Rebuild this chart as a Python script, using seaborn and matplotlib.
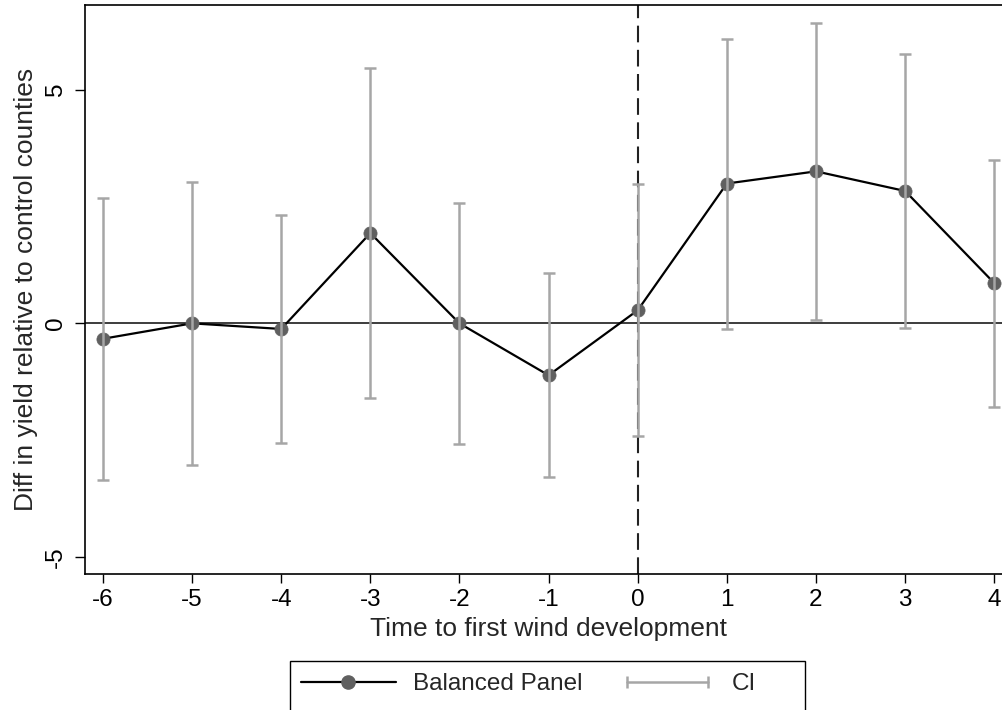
import numpy as np
import pandas as pd
import matplotlib
matplotlib.use("Agg")
import matplotlib.pyplot as plt
from matplotlib.lines import Line2D
from matplotlib.patches import Rectangle
from matplotlib.legend_handler import HandlerLine2D
import seaborn as sns

# event time relative to first wind development
event_time = [-6, -5, -4, -3, -2, -1, 0, 1, 2, 3, 4]
coef = [-0.33, 0.00, -0.12, 1.93, 0.00, -1.11, 0.28, 2.99, 3.25, 2.83, 0.86]
ci_low = [-3.34, -3.02, -2.55, -1.60, -2.57, -3.29, -2.41, -0.13, 0.08, -0.09, -1.79]
ci_high = [2.69, 3.03, 2.31, 5.46, 2.58, 1.08, 2.99, 6.08, 6.43, 5.75, 3.50]

x_ticks = [-6, -5, -4, -3, -2, -1, 0, 1, 2, 3, 4]
y_ticks = [-5, 0, 5]

df = pd.DataFrame({"t": event_time, "coef": coef, "lo": ci_low, "hi": ci_high})

sns.set_style("ticks")
plt.rcParams["font.family"] = ["Liberation Sans", "DejaVu Sans"]

TICK_FS = 17.5
TITLE_FS = 19
LEG_FS = 17.5
ci_col = "#a6a6a6"
pt_col = "#606060"

fig = plt.figure(figsize=(10.03, 7.10), dpi=100)
ax = fig.add_axes([0.0852, 0.1915, 0.9235, 0.801])

ax.axhline(0, color="#3c3c3c", lw=1.4, zorder=1)
ax.axvline(0, color="#222222", lw=1.5, ls=(0, (8, 3.6)), zorder=1)

sns.lineplot(data=df, x="t", y="coef", ax=ax, color="black", lw=1.6,
             marker="o", markersize=9.5, markerfacecolor=pt_col,
             markeredgecolor=pt_col, markeredgewidth=0.5, legend=False,
             zorder=2)

err = np.vstack([df["coef"] - df["lo"], df["hi"] - df["coef"]])
ax.errorbar(df["t"], df["coef"], yerr=err, fmt="none", ecolor=ci_col,
            elinewidth=1.8, capsize=4, capthick=1.8, zorder=3)

ax.set_xlim(-6.196, 4.196)
ax.set_ylim(-5.36, 6.80)
ax.set_xticks(x_ticks)
ax.set_xticklabels([str(v) for v in x_ticks], fontsize=TICK_FS)
ax.set_yticks(y_ticks)
ax.set_yticklabels([str(v) for v in y_ticks], fontsize=TICK_FS, rotation=90,
                   va="center")
ax.tick_params(axis="x", length=6.5, width=1.0, pad=4.5, colors="black")
ax.tick_params(axis="y", length=7.2, width=1.0, pad=6, colors="black")

for side in ["left", "bottom", "top"]:
    ax.spines[side].set_color("black")
    ax.spines[side].set_linewidth(1.2)
ax.spines["right"].set_visible(False)

ax.set_xlabel("Time to first wind development", fontsize=TITLE_FS, labelpad=4)
ax.set_ylabel("Diff in yield relative to control counties", fontsize=TITLE_FS,
              labelpad=5)

h_main = Line2D([], [], color="black", lw=1.6, marker="o", markersize=9.5,
                markerfacecolor=pt_col, markeredgecolor=pt_col)
h_ci = Line2D([], [], color=ci_col, lw=1.8, marker="|", markersize=8,
              markeredgewidth=1.8)
fig.legend([h_main, h_ci], ["Balanced Panel", "CI"], loc="center",
           bbox_to_anchor=(0.527, 1 - 684 / 710), ncol=2, frameon=False,
           fontsize=LEG_FS, handlelength=3.9, handletextpad=0.7,
           columnspacing=1.55,
           handler_map={h_main: HandlerLine2D(numpoints=1),
                        h_ci: HandlerLine2D(numpoints=2)})
fig.add_artist(Rectangle((290 / 1003, -10 / 710), 515 / 1003, 59 / 710,
                         transform=fig.transFigure, fill=False,
                         edgecolor="black", lw=1.0, clip_on=False))

fig.savefig("out.png", dpi=100)
